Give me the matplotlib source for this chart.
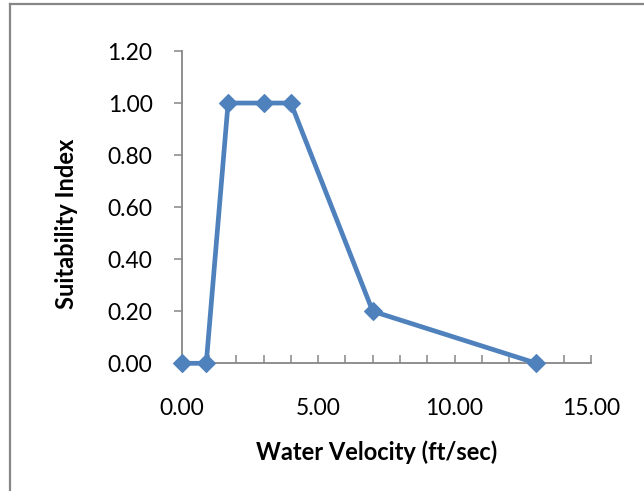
import matplotlib
matplotlib.use("Agg")
import matplotlib.pyplot as plt
from matplotlib.lines import Line2D

velocity = [0.0, 0.9, 1.7, 3.0, 4.0, 7.0, 13.0]
suitability = [0.0, 0.0, 1.0, 1.0, 1.0, 0.2, 0.0]
x_ticks = [0, 5, 10, 15]
y_ticks = [0.0, 0.2, 0.4, 0.6, 0.8, 1.0, 1.2]

W, H = 644, 491
fig = plt.figure(figsize=(W / 100, H / 100), dpi=100)
fig.patch.set_facecolor("white")

ax = fig.add_axes([181.7 / W, 1 - 363.3 / H, (591 - 181.7) / W, (363.3 - 51) / H])
ax.patch.set_alpha(0)

blue = "#4F81BD"
ax.plot(velocity, suitability, color=blue, lw=3.4, marker="D", ms=9.0,
        mfc=blue, mec=blue, mew=0.8, clip_on=False, zorder=5)

ax.set_xlim(0, 15)
ax.set_ylim(0, 1.2)
ax.set_xticks(x_ticks)
ax.set_xticklabels([f"{v:.2f}" for v in x_ticks])
ax.set_xticks(range(0, 16), minor=True)
ax.set_yticks(y_ticks)
ax.set_yticklabels([f"{v:.2f}" for v in y_ticks])

for s in ["top", "right"]:
    ax.spines[s].set_visible(False)
axis_col = "#868686"
for s in ["left", "bottom"]:
    ax.spines[s].set_color(axis_col)
    ax.spines[s].set_linewidth(1.3)

font = "Lato"
ax.tick_params(axis="y", direction="out", length=5.5, width=1.1, color=axis_col,
               pad=15.5, labelsize=16.5, labelcolor="black")
ax.tick_params(axis="x", which="both", direction="in", length=5.5, width=1.1,
               color=axis_col, pad=25, labelsize=16.5, labelcolor="black")
for lab in ax.get_xticklabels() + ax.get_yticklabels():
    lab.set_fontfamily(font)

fig.text(376.5 / W, 1 - 452 / H, "Water Velocity (ft/sec)", ha="center", va="center",
         fontsize=17, fontweight="bold", family=font)
fig.text(66 / W, 1 - 224 / H, "Suitability Index", ha="center", va="center",
         rotation=90, fontsize=17, fontweight="bold", family=font)

# outer chart frame
frame_col = "#878787"
fig.add_artist(Line2D([10 / W, 10 / W], [0, 1 - 4 / H], transform=fig.transFigure,
                      color=frame_col, lw=1.6))
fig.add_artist(Line2D([10 / W, 1], [1 - 4 / H, 1 - 4 / H], transform=fig.transFigure,
                      color=frame_col, lw=1.6))

fig.savefig("out.png", dpi=100)
